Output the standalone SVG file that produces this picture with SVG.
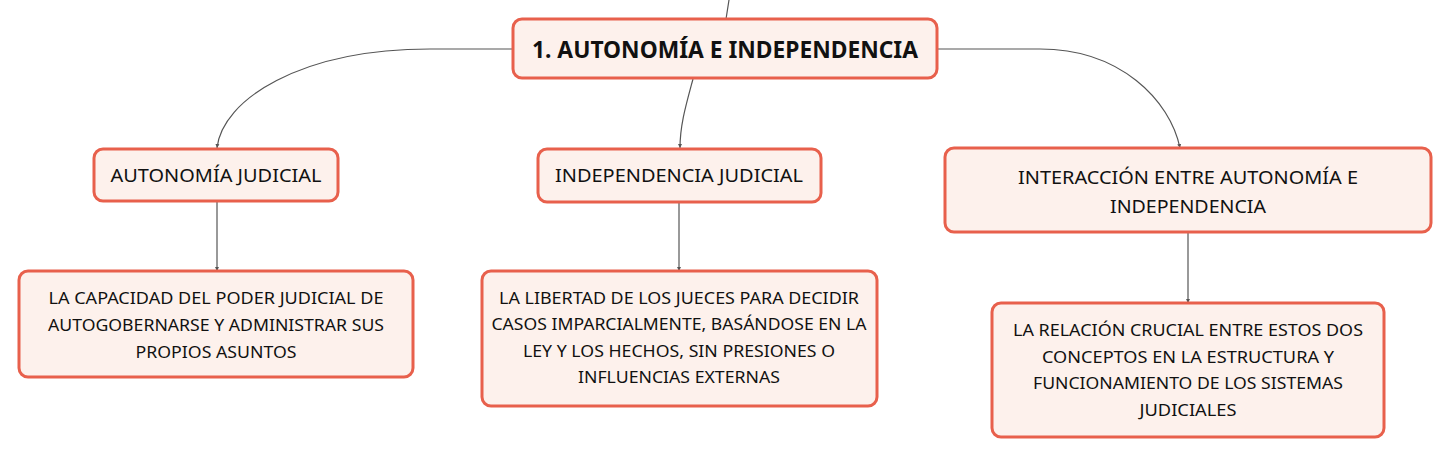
<svg xmlns="http://www.w3.org/2000/svg" width="1451" height="458" viewBox="0 0 1451 458">
<style>
.box{fill:#fdf1ec;stroke:#e8604c;stroke-width:3}
.t{font-family:"Noto Sans","Liberation Sans",sans-serif;font-size:17px;fill:#111;text-anchor:middle;dominant-baseline:central}
.h{font-size:18px}
.root{font-family:"Noto Sans","Liberation Sans",sans-serif;font-size:23px;font-weight:bold;fill:#111;text-anchor:middle;dominant-baseline:central}
.c{fill:none;stroke:#555;stroke-width:1.2}
</style>
<defs>
<marker id="a" markerWidth="6" markerHeight="6" refX="4" refY="2.5" orient="auto" markerUnits="userSpaceOnUse">
<path d="M0,0.5 L4,2.5 L0,4.5 Z" fill="#555"/>
</marker>
</defs>
<rect width="1451" height="458" fill="#fff"/>
<g id="connectors">
<path class="c" d="M729,0 L726,19"/>
<path class="c" d="M513,49 L430,49 C300,49 222,100 217,148" marker-end="url(#a)"/>
<path class="c" d="M693,79 C686,105 680,125 680,148" marker-end="url(#a)"/>
<path class="c" d="M937,49 L1040,49 C1120,49 1170,100 1180,148" marker-end="url(#a)"/>
<path class="c" d="M217,201 L217,271" marker-end="url(#a)"/>
<path class="c" d="M679,202 L679,271" marker-end="url(#a)"/>
<path class="c" d="M1188,232 L1188,303" marker-end="url(#a)"/>
</g>
<g id="root">
<rect class="box" x="513" y="19" width="424" height="59" rx="9"/>
<text class="root" x="725" y="49" textLength="386" lengthAdjust="spacingAndGlyphs">1. AUTONOMÍA E INDEPENDENCIA</text>
</g>
<g id="autonomia">
<rect class="box" x="94" y="149" width="244" height="52" rx="9"/>
<text class="t h" x="216" y="175" textLength="211" lengthAdjust="spacingAndGlyphs">AUTONOMÍA JUDICIAL</text>
</g>
<g id="independencia">
<rect class="box" x="538" y="149" width="283" height="53" rx="9"/>
<text class="t h" x="679" y="175" textLength="248" lengthAdjust="spacingAndGlyphs">INDEPENDENCIA JUDICIAL</text>
</g>
<g id="interaccion">
<rect class="box" x="945" y="148" width="486" height="84" rx="9"/>
<text class="t h" x="1188" y="177" textLength="340" lengthAdjust="spacingAndGlyphs">INTERACCIÓN ENTRE AUTONOMÍA E</text>
<text class="t h" x="1188" y="206" textLength="156" lengthAdjust="spacingAndGlyphs">INDEPENDENCIA</text>
</g>
<g id="def-autonomia">
<rect class="box" x="19" y="271" width="394" height="106" rx="9"/>
<text class="t" x="216" y="297" textLength="335" lengthAdjust="spacingAndGlyphs">LA CAPACIDAD DEL PODER JUDICIAL DE</text>
<text class="t" x="216" y="324" textLength="336" lengthAdjust="spacingAndGlyphs">AUTOGOBERNARSE Y ADMINISTRAR SUS</text>
<text class="t" x="216" y="351" textLength="161" lengthAdjust="spacingAndGlyphs">PROPIOS ASUNTOS</text>
</g>
<g id="def-independencia">
<rect class="box" x="482" y="271" width="395" height="135" rx="9"/>
<text class="t" x="679" y="297" textLength="360" lengthAdjust="spacingAndGlyphs">LA LIBERTAD DE LOS JUECES PARA DECIDIR</text>
<text class="t" x="679" y="323" textLength="375" lengthAdjust="spacingAndGlyphs">CASOS IMPARCIALMENTE, BASÁNDOSE EN LA</text>
<text class="t" x="679" y="350" textLength="312" lengthAdjust="spacingAndGlyphs">LEY Y LOS HECHOS, SIN PRESIONES O</text>
<text class="t" x="679" y="376" textLength="202" lengthAdjust="spacingAndGlyphs">INFLUENCIAS EXTERNAS</text>
</g>
<g id="def-interaccion">
<rect class="box" x="992" y="303" width="392" height="134" rx="9"/>
<text class="t" x="1188" y="329" textLength="350" lengthAdjust="spacingAndGlyphs">LA RELACIÓN CRUCIAL ENTRE ESTOS DOS</text>
<text class="t" x="1188" y="356" textLength="292" lengthAdjust="spacingAndGlyphs">CONCEPTOS EN LA ESTRUCTURA Y</text>
<text class="t" x="1188" y="382" textLength="310" lengthAdjust="spacingAndGlyphs">FUNCIONAMIENTO DE LOS SISTEMAS</text>
<text class="t" x="1188" y="409" textLength="97" lengthAdjust="spacingAndGlyphs">JUDICIALES</text>
</g>
</svg>
